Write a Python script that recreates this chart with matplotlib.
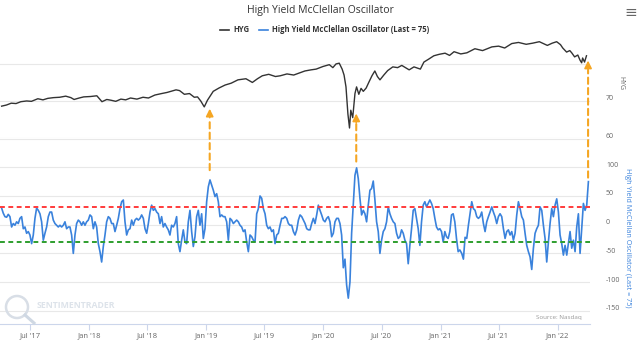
import numpy as np
import pandas as pd
import matplotlib
matplotlib.use("Agg")
import matplotlib.pyplot as plt
import matplotlib.dates as mdates
import matplotlib.transforms as mtrans
from matplotlib.patches import Ellipse

plt.rcParams['font.family'] = ['Open Sans', 'DejaVu Sans']

# HYG (total return adjusted)
hyg_dates = ["2017-04-03", "2017-04-18", "2017-05-03", "2017-05-18", "2017-06-02", "2017-06-20",
             "2017-07-05", "2017-07-25", "2017-08-10", "2017-08-25", "2017-09-12", "2017-10-01",
             "2017-10-20", "2017-11-05", "2017-11-15", "2017-12-01", "2017-12-15", "2018-01-05",
             "2018-01-25", "2018-02-10", "2018-02-25", "2018-03-10", "2018-03-25", "2018-04-10",
             "2018-04-25", "2018-05-10", "2018-05-30", "2018-06-18", "2018-07-05", "2018-07-25",
             "2018-08-15", "2018-09-01", "2018-09-29", "2018-10-10", "2018-10-25", "2018-11-10",
             "2018-11-25", "2018-12-05", "2018-12-15", "2018-12-26", "2019-01-05", "2019-01-23",
             "2019-02-10", "2019-03-01", "2019-03-20", "2019-04-10", "2019-05-05", "2019-05-25",
             "2019-06-10", "2019-06-25", "2019-07-15", "2019-08-05", "2019-08-20", "2019-09-10",
             "2019-10-01", "2019-10-20", "2019-11-05", "2019-11-24", "2019-12-10", "2019-12-31",
             "2020-01-20", "2020-01-31", "2020-02-10", "2020-02-20", "2020-02-29", "2020-03-06",
             "2020-03-12", "2020-03-18", "2020-03-23", "2020-03-27", "2020-04-02", "2020-04-09",
             "2020-04-14", "2020-04-21", "2020-04-28", "2020-05-05", "2020-05-14", "2020-05-22",
             "2020-06-01", "2020-06-10", "2020-06-18", "2020-06-26", "2020-07-08", "2020-07-20",
             "2020-08-05", "2020-08-20", "2020-09-02", "2020-09-25", "2020-10-10", "2020-10-30",
             "2020-11-10", "2020-11-25", "2020-12-11", "2020-12-28", "2021-01-15", "2021-01-29",
             "2021-02-12", "2021-03-05", "2021-03-24", "2021-04-18", "2021-05-12", "2021-06-10",
             "2021-07-01", "2021-07-20", "2021-08-11", "2021-09-01", "2021-09-25", "2021-10-15",
             "2021-11-05", "2021-11-30", "2021-12-15", "2021-12-29", "2022-01-10", "2022-01-17",
             "2022-01-29", "2022-02-08", "2022-02-14", "2022-02-23", "2022-03-05", "2022-03-12",
             "2022-03-17", "2022-03-20", "2022-03-26", "2022-04-01"]
hyg_values = [68.6, 68.9, 69.4, 69.3, 69.8, 70.0,
              69.9, 70.6, 70.3, 70.7, 70.9, 71.0,
              71.3, 70.9, 70.4, 70.8, 71.1, 71.2,
              71.4, 69.8, 70.4, 70.2, 69.9, 70.5,
              70.3, 70.8, 70.5, 71.0, 70.8, 71.6,
              72.0, 72.3, 73.0, 72.8, 71.8, 72.0,
              71.0, 71.1, 70.0, 68.4, 70.2, 72.6,
              73.5, 74.3, 74.8, 75.7, 76.0, 75.0,
              76.0, 76.8, 77.2, 76.6, 76.8, 77.3,
              77.0, 77.6, 78.1, 78.4, 78.6, 79.3,
              79.8, 79.0, 80.0, 80.2, 78.6, 77.0,
              73.8, 66.5, 62.7, 67.5, 65.5, 72.0,
              73.8, 71.8, 73.4, 72.6, 73.5, 75.0,
              76.8, 78.1, 76.6, 75.7, 77.0, 78.2,
              79.2, 79.0, 79.6, 78.4, 79.2, 78.6,
              80.5, 81.3, 82.2, 82.6, 82.9, 82.3,
              83.3, 82.7, 83.0, 84.1, 83.6, 84.6,
              84.8, 84.3, 85.5, 85.8, 85.3, 85.6,
              86.0, 85.0, 85.6, 86.0, 85.2, 84.3,
              83.2, 83.6, 83.0, 81.9, 82.4, 81.0,
              80.3, 81.6, 80.5, 82.2]

# McClellan oscillator, read in four stretches (evenly spaced within each)
osc_a = [29, 20, 14, 13, 18, 14, -4, 2, -1, 5, 2, 11, 14, -7, -4, -15, -12, -18, -33, -18,
         11, 29, 25, 19, 5, -27, -15, -4, 14, 22, 22, 8, 2, -1, -4, -1, -4, -1, 5, -7,
         -4, -4, -18, -50, -18, 2, 8, 5, -1, 5, -1, 5, 8, 17, 14, -7, 5, -4, -33, -47,
         -65, -38, -18, 5, 14, 11, 2, 2, -12, -1, 11, 28, 40, 43, 5, -18, -9, -7, 8, -1,
         8, 11, 8, 11, 17, 11, -7, -15, 2, 22, 34, 25, 28, 22, 19, 2]
osc_b = [14, -4, 2, -4, -9, -18, -1, -4, 2, 14, -33, -47, -27, -9, -30, -33, 5, 25, -12, -38,
         -21, 14, 25, -1, 19, -24, -7, 40, 66, 78, 69, 60, 49, 54, 40, 14, 17, 14, 14, 5,
         -27, 11, 8, 2, 5, 8, 5, -1, -4, -12, -9, -30, -47, -18, -21, -27, -30, 19, 28, 50,
         46, 28, 19, -1, -7, -4, -12, -9, -33, -18, -15, -1, 11, 11, 14, 11, 2, -1, -1, -12,
         -18, -9, 8, 17, 14, 8, 2, -7, -9, -9]
osc_c = [2, 11, 2, 17, 34, 25, 17, 8, 5, 11, 14, 5, -21, -15, 5, 11, 11, 2, -18, -75,
         -60, -105, -128, -100, -15, 34, 86, 99, 80, 46, 17, 25, 19, 5, 34, 60, 63, 76, 43, 5,
         -12, -50, -27, -12, -7, 5, 31, 19, 11, 5, 2, -15, -24, -21, -9, -15, -27, -33, -68, -36,
         -7, 25, 28, 11, -7, -36, 5, 34, 40, 31, 37, 43, 37, 28, 11, -4, -9, -7, -12, -30,
         -12, -21, -24, -12, 17, 19, 5, -24, -47, -44]
osc_d = [-50, -60, -22, -24, -1, 19, 40, 28, 25, 14, 11, 14, 22, 2, -12, 5, 14, 22, 31, 22,
         14, 2, 14, 19, 14, -7, -24, -12, -9, -18, -12, -27, -15, 17, 40, 28, 14, 8, -15, -36,
         -47, -56, -78, -41, -15, -7, -1, 31, 25, -1, -24, -65, -30, 2, 28, 14, 34, 45, 22, -18,
         -33, -53, -36, -53, -33, -12, -41, -27, -47, -4, 19, -50, -7, 37, 25, 34, 75]
osc_spans = [("2017-04-03", "2018-08-10"), ("2018-08-15", "2019-11-21"),
             ("2019-11-26", "2021-03-02"), ("2021-03-08", "2022-04-07")]

upper_band = 30
lower_band = -30

arrow_dates = ["2019-01-12", "2020-04-13", "2022-04-06"]
arrow_osc = [95, 110, 82]
arrow_hyg = [67.9, 66.6, 80.9]

osc_dates = []
osc_values = []
for vals, (s, e) in zip([osc_a, osc_b, osc_c, osc_d], osc_spans):
    osc_dates.extend(pd.date_range(s, e, periods=len(vals)))
    osc_values.extend(vals)

hyg_dates = pd.to_datetime(hyg_dates)
arrow_x = mdates.date2num(pd.to_datetime(arrow_dates).to_pydatetime())

blue = "#3a82dc"
orange = "#f5a623"
grid_c = "#e8e8e8"
lab_c = "#666666"

fig = plt.figure(figsize=(6.4, 3.5), dpi=100)
W, H = 640.0, 350.0
ax_top = fig.add_axes([0.0, (H - 138) / H, 590 / W, 100 / H])
ax_bot = fig.add_axes([0.0, 26 / H, 590 / W, 186 / H], sharex=ax_top)

xmin, xmax = pd.Timestamp("2017-03-29"), pd.Timestamp("2022-04-12")
lift = mtrans.ScaledTranslation(0, 3 / 100, fig.dpi_scale_trans)

# top pane: HYG
ax_top.plot(hyg_dates, hyg_values, color="#333333", lw=1.0, zorder=3)
ax_top.set_ylim(60, 87)
ax_top.set_yticks([60, 70, 80])
ax_top.set_yticklabels(["60", "70", ""])
ax_top.yaxis.tick_right()
ax_top.grid(axis="y", color=grid_c, lw=0.8)
ax_top.set_axisbelow(True)
for sp in ax_top.spines.values():
    sp.set_visible(False)
ax_top.tick_params(axis="y", length=0, labelsize=5, labelcolor=lab_c, pad=11.5)
ax_top.tick_params(axis="x", bottom=False, labelbottom=False)
ax_top.patch.set_alpha(0)

# bottom pane: oscillator
ax_bot.plot(osc_dates, osc_values, color=blue, lw=1.2, zorder=3)
ax_bot.axhline(upper_band, color="#ff3b3b", lw=1.4, ls=(0, (2.5, 1.8)), zorder=4)
ax_bot.axhline(lower_band, color="#2e9e2e", lw=1.4, ls=(0, (2.5, 1.8)), zorder=4)
ax_bot.set_ylim(-173, 151)
ax_bot.set_yticks([-150, -100, -50, 0, 50, 100, 150])
ax_bot.set_yticklabels(["-150", "-100", "-50", "0", "50", "100", ""])
ax_bot.yaxis.tick_right()
ax_bot.grid(axis="y", color=grid_c, lw=0.8)
ax_bot.set_axisbelow(True)
for k in ["top", "left", "right"]:
    ax_bot.spines[k].set_visible(False)
ax_bot.spines["bottom"].set_color("#ccd6eb")
ax_bot.tick_params(axis="y", length=0, labelsize=5, labelcolor=lab_c, pad=11.5)
ax_bot.patch.set_alpha(0)

for ax in (ax_top, ax_bot):
    for lab in ax.get_yticklabels():
        lab.set_transform(lab.get_transform() + lift)

xt = pd.date_range("2017-07-01", "2022-01-01", freq="6MS")
ax_bot.set_xticks(xt)
ax_bot.set_xticklabels([d.strftime("%b '%y") for d in xt])
ax_bot.tick_params(axis="x", length=4, color="#ccd6eb", labelsize=5.5, labelcolor=lab_c, pad=2)
ax_bot.set_xlim(xmin, xmax)

# arrows from oscillator spikes up to HYG lows
for x, o, h in zip(arrow_x, arrow_osc, arrow_hyg):
    ax_bot.annotate("", xy=(x, h), xycoords=ax_top.transData,
                    xytext=(x, o), textcoords=ax_bot.transData,
                    arrowprops=dict(arrowstyle="-", color=orange, lw=1.5,
                                    ls=(0, (3, 2)), shrinkA=0, shrinkB=7),
                    annotation_clip=False, zorder=5)
    ax_top.annotate("", xy=(x, h), xytext=(x, h - 2.4),
                    arrowprops=dict(arrowstyle="-|>", color=orange, lw=1.2,
                                    mutation_scale=11, shrinkA=0, shrinkB=0),
                    annotation_clip=False, zorder=5)

# titles and legend
fig.text(320 / W, 1 - 11 / H, "High Yield McClellan Oscillator", ha="center", va="center",
         fontsize=7.5, color="#333333")
fig.lines.append(plt.Line2D([220 / W, 229 / W], [1 - 30 / H] * 2, color="#333333", lw=1.2,
                            transform=fig.transFigure))
fig.text(233 / W, 1 - 30 / H, "HYG", ha="left", va="center", fontsize=5.5,
         fontweight="bold", color="#333333")
fig.lines.append(plt.Line2D([259 / W, 268 / W], [1 - 30 / H] * 2, color=blue, lw=1.2,
                            transform=fig.transFigure))
fig.text(272 / W, 1 - 30 / H, "High Yield McClellan Oscillator (Last = 75)", ha="left",
         va="center", fontsize=5.5, fontweight="bold", color="#333333")

fig.text(621 / W, 1 - 83 / H, "HYG", rotation=-90, ha="center", va="center",
         fontsize=5, color=lab_c)
fig.text(628 / W, 1 - 238 / H, "High Yield McClellan Oscillator (Last = 75)", rotation=-90,
         ha="center", va="center", fontsize=5.2, color=blue)
fig.text(631 / W, 1 - 14 / H, "\u2261", ha="center", va="center", fontsize=11,
         color="#666666")

fig.text(582 / W, 1 - 318 / H, "Source: Nasdaq", ha="right", va="center",
         fontsize=4.5, color="#999999")

# faint watermark
fig.patches.append(Ellipse((17 / W, 1 - 307 / H), 22 / W, 22 / H, transform=fig.transFigure,
                           fill=False, ec="#d8dee6", lw=1.8))
fig.lines.append(plt.Line2D([25 / W, 34 / W], [1 - 315 / H, 1 - 323 / H], color="#cfd8e3",
                            lw=2.2, transform=fig.transFigure))
fig.text(37 / W, 1 - 305 / H, "SENTIMENTRADER", ha="left", va="center", fontsize=6.3,
         fontweight="bold", color="#dde3ea")

fig.savefig("out.png", dpi=100)
